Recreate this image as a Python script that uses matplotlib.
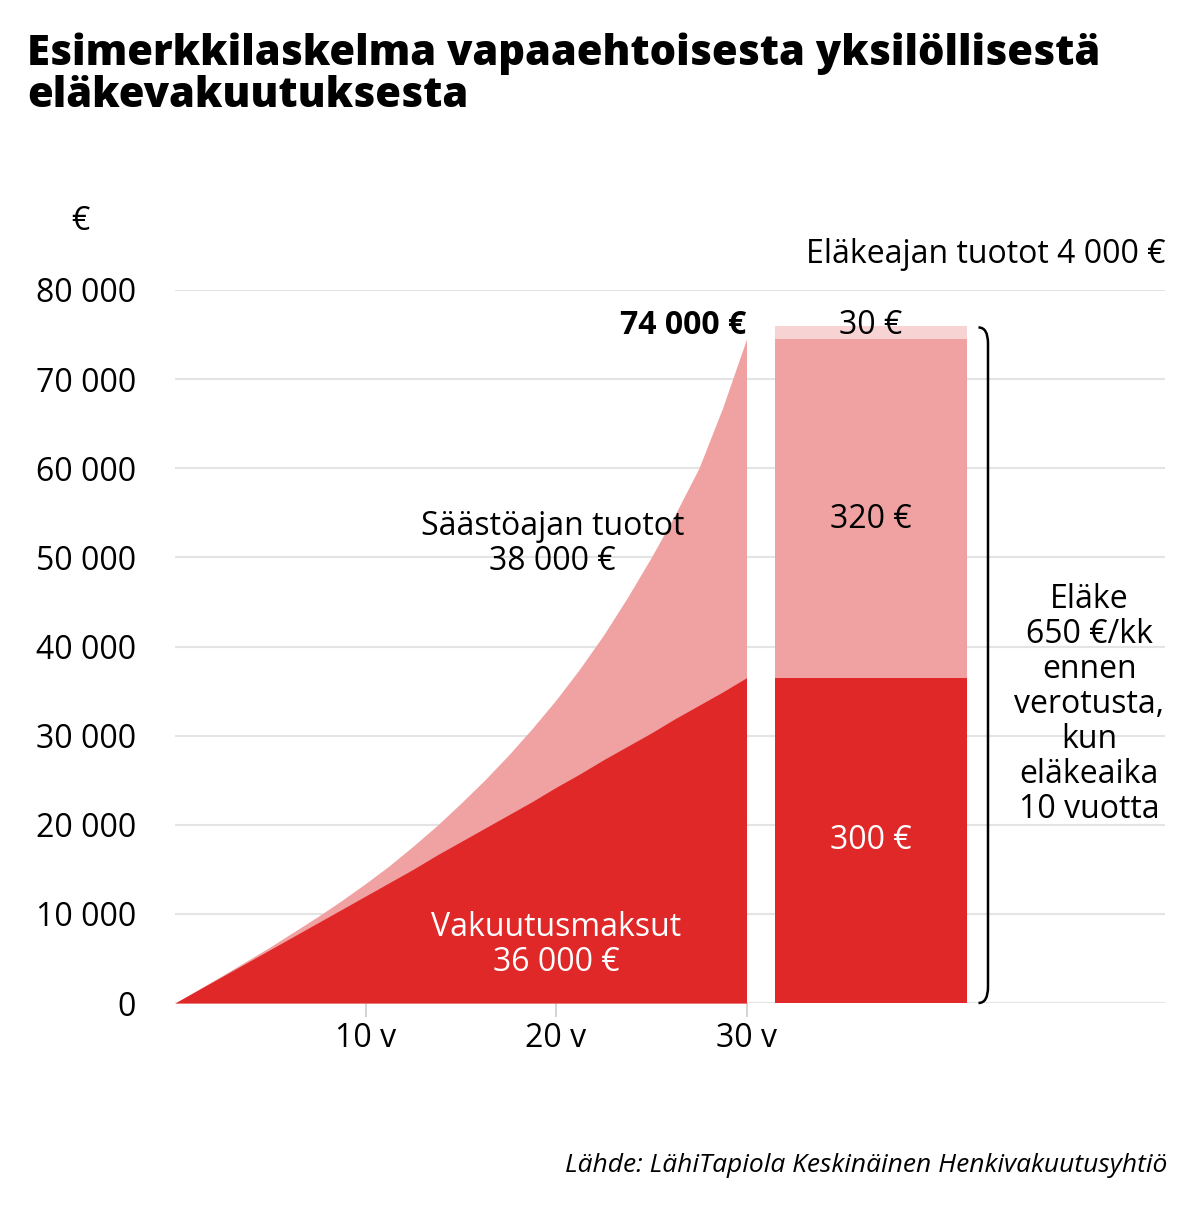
import matplotlib.pyplot as plt
from matplotlib.path import Path
from matplotlib.patches import PathPatch

# savings phase (years, euros)
years = [0, 2.5, 5, 7.5, 8.75, 10, 11.25, 12.5, 13.75, 15, 16.25, 17.5, 18.75, 20,
         21.25, 22.5, 23.75, 25, 26.25, 27.5, 28.75, 30]
payments = [0, 3000, 6000, 9000, 10500, 12000, 13500, 15000, 16600, 18100, 19600, 21100, 22600, 24200,
            25700, 27300, 28800, 30300, 31900, 33400, 34900, 36500]
total = [0, 3100, 6300, 9700, 11500, 13400, 15400, 17600, 19900, 22400, 25000, 27800, 30800, 34000,
         37500, 41300, 45500, 50000, 54800, 60000, 66800, 74500]

# pension bar segments
bar_bottoms = [0, 36500, 74500]
bar_heights = [36500, 38000, 1500]
bar_colors = ["#e02828", "#f0a2a2", "#f8d3d3"]
bar_labels = ["300 €", "320 €", "30 €"]

yticks = [0, 10000, 20000, 30000, 40000, 50000, 60000, 70000, 80000]
ytick_labels = ["0", "10 000", "20 000", "30 000", "40 000", "50 000", "60 000", "70 000", "80 000"]
xticks = [10, 20, 30]
xtick_labels = ["10 v", "20 v", "30 v"]

plt.rcParams["font.family"] = "Open Sans"
fs = 23
fig = plt.figure(figsize=(11.99, 12.22), dpi=100)
# axes: x 175..1165 px, y 1003..290 px
ax = fig.add_axes([175/1199, 1 - 1003/1222, 990/1199, 713/1222])
ax.set_xlim(0, 990/19.05)
ax.set_ylim(0, 80000)

for y in yticks:
    ax.axhline(y, color="#e4e4e4", lw=1.5, zorder=0)

ax.fill_between(years, 0, total, color="#f0a2a2", lw=0, zorder=2)
ax.fill_between(years, 0, payments, color="#e02828", lw=0, zorder=3)

bx0 = (775-175)/19.05
bw = (967-775)/19.05
for b, h, c in zip(bar_bottoms, bar_heights, bar_colors):
    ax.bar(bx0, h, bottom=b, width=bw, align="edge", color=c, lw=0, zorder=2)
bc = bx0 + bw/2
ax.text(bc, 18200, bar_labels[0], color="white", fontsize=fs, ha="center", va="center")
ax.text(bc, 54200, bar_labels[1], color="black", fontsize=fs, ha="center", va="center")
ax.text(bc, 76000, bar_labels[2], color="black", fontsize=fs, ha="center", va="center")

ax.set_yticks(yticks, ytick_labels, fontsize=fs)
ax.set_xticks(xticks, xtick_labels, fontsize=fs)
ax.tick_params(axis="y", length=0, pad=28)
ax.tick_params(axis="x", length=10, width=1.2, color="#cccccc", pad=4, direction="out")
for s in ax.spines.values():
    s.set_visible(False)

ax.text(19.8, 51500, "Säästöajan tuotot\n38 000 €", fontsize=fs, ha="center", va="center", linespacing=1.1)
ax.text(20.0, 6500, "Vakuutusmaksut\n36 000 €", fontsize=fs, ha="center", va="center",
        color="white", linespacing=1.1)
ax.text(30, 76000, "74 000 €", fontsize=fs, fontweight="bold", ha="right", va="center")
ax.text(52, 84000, "Eläkeajan tuotot 4 000 €", fontsize=fs, ha="right", va="center")
ax.text(48.0, 33500, "Eläke\n650 €/kk\nennen\nverotusta,\nkun\neläkeaika\n10 vuotta",
        fontsize=fs, ha="center", va="center", linespacing=1.08)

# brace
xb = (988-175)/19.05
dx = 0.5
verts = [(xb-dx, 75800), (xb, 75800), (xb, 74000),
         (xb, 1800), (xb, 0), (xb-dx, 0)]
codes = [Path.MOVETO, Path.CURVE3, Path.CURVE3,
         Path.LINETO, Path.CURVE3, Path.CURVE3]
ax.add_patch(PathPatch(Path(verts, codes), fill=False, lw=1.8, color="black", clip_on=False))

fig.text(27/1199, 1 - 75/1222, "Esimerkkilaskelma vapaaehtoisesta yksilöllisestä\neläkevakuutuksesta",
         fontsize=30, fontweight="heavy", va="center", linespacing=1.0)
fig.text(80/1199, 1 - 222/1222, "€", fontsize=fs, ha="center", va="center")
fig.text(1167/1199, 1 - 1165/1222, "Lähde: LähiTapiola Keskinäinen Henkivakuutusyhtiö",
         fontsize=19, style="italic", ha="right", va="center")

fig.savefig("out.png", dpi=100)
